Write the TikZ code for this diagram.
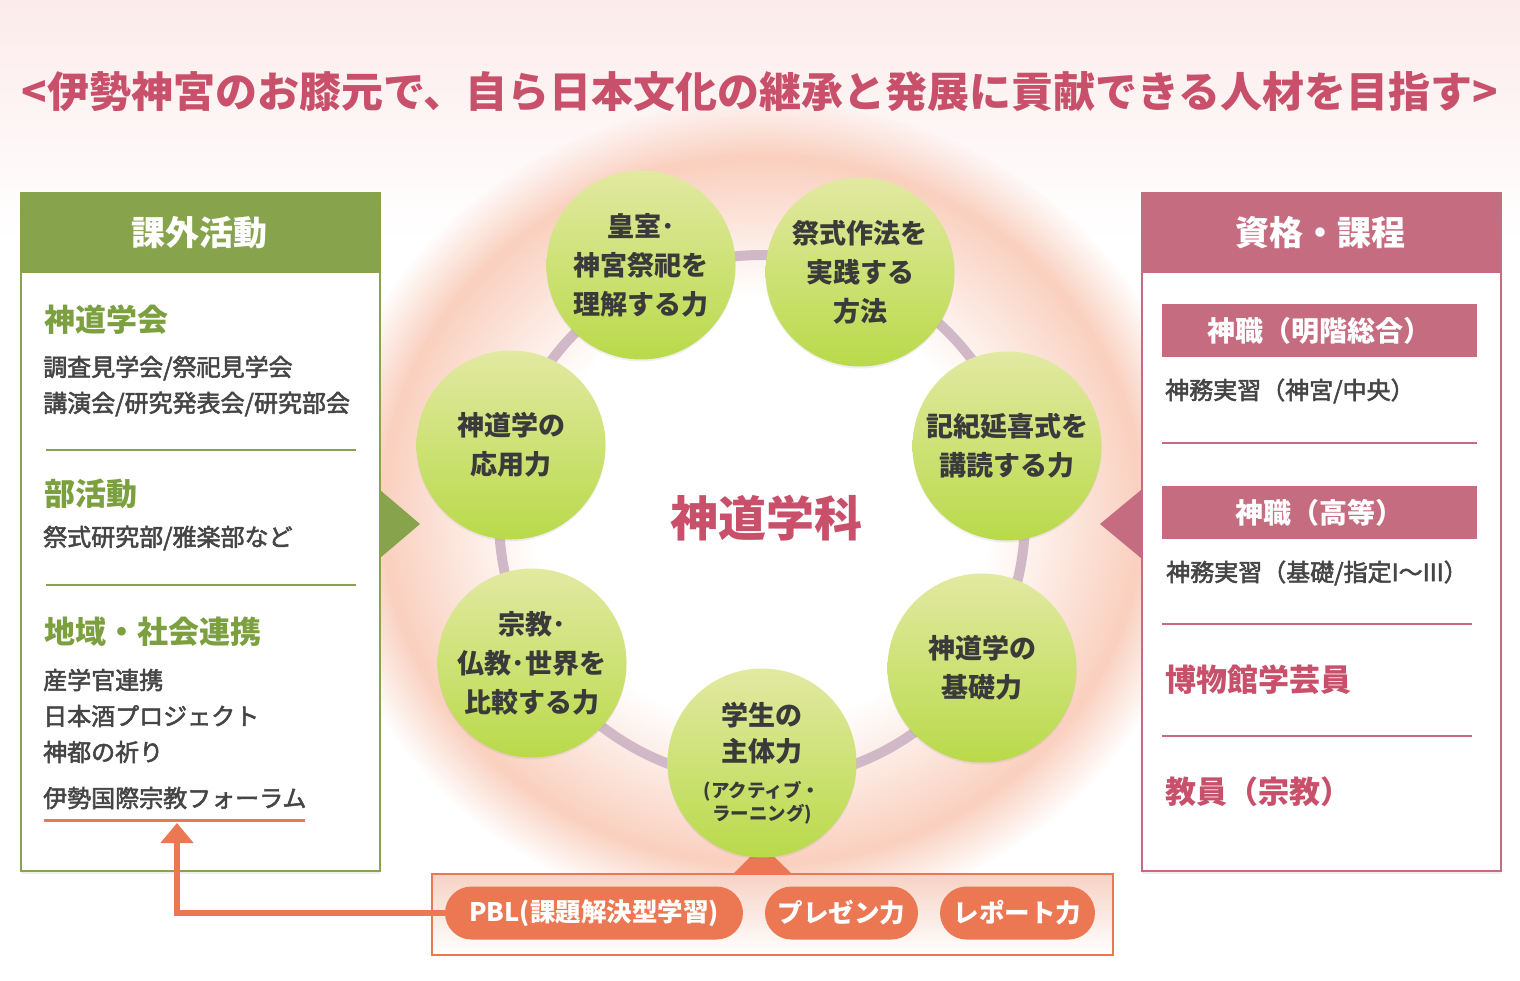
\documentclass[tikz,border=0pt]{standalone}
\usepackage{fontspec}
\setmainfont{Noto Sans CJK JP}
\newfontfamily\jpmed[FakeBold=2.2]{Noto Sans CJK JP}
\usetikzlibrary{shadows,arrows.meta,fadings}
\definecolor{tpink}{HTML}{C9506A}
\definecolor{hgreen}{HTML}{87A34B}
\definecolor{tgreen}{HTML}{7C9F3F}
\definecolor{hpink}{HTML}{C66C80}
\definecolor{ppink}{HTML}{C8506A}
\definecolor{orng}{HTML}{EC7853}
\definecolor{txt}{HTML}{454545}
\definecolor{ctxt}{HTML}{3A3A3A}
\definecolor{ringc}{HTML}{D1B8C7}
\definecolor{cgtop}{HTML}{E2E9A2}
\definecolor{cgbot}{HTML}{B9DA4A}
\definecolor{glowc}{HTML}{FAD0BF}
\definecolor{bandc}{HTML}{FCEBEB}
\definecolor{boxtop}{HTML}{F7D2C4}
\pgfdeclareradialshading{glowmask}{\pgfpointorigin}{color(0bp)=(black); color(13bp)=(black); color(21.5bp)=(white); color(25bp)=(black); color(50bp)=(black)}
\pgfdeclarefading{glowfade}{\pgfuseshading{glowmask}}
\begin{document}
\begin{tikzpicture}[x=1pt,y=-1pt,
  skill/.style={circle, minimum size=189pt, inner sep=0pt, top color=cgtop, bottom color=cgbot,
    align=center, text=ctxt, font=\bfseries\fontsize{27}{39}\selectfont,
    drop shadow={shadow xshift=0pt, shadow yshift=-2pt, opacity=0.12}},
  panel/.style={fill=white, line width=2pt, anchor=north west, minimum width=359pt, minimum height=678pt, inner sep=0pt,
    drop shadow={shadow xshift=0pt, shadow yshift=-3pt, opacity=0.12}},
  phead/.style={anchor=north west, minimum width=359pt, minimum height=81pt, inner sep=0pt, text=white,
    font=\bfseries\fontsize{34}{34}\selectfont},
  gtitle/.style={anchor=west, inner sep=0pt, text=tgreen, font=\bfseries\fontsize{31}{31}\selectfont},
  ptitle/.style={anchor=west, inner sep=0pt, text=ppink, font=\bfseries\fontsize{31}{31}\selectfont},
  body/.style={anchor=west, inner sep=0pt, text=txt, font=\jpmed\fontsize{24}{24}\selectfont},
  subbox/.style={fill=hpink, minimum width=315pt, minimum height=53pt, inner sep=0pt, text=white,
    font=\bfseries\fontsize{28}{28}\selectfont},
  pill/.style={fill=orng, rounded corners=26.5pt, minimum height=53pt, inner sep=0pt, text=white,
    font=\bfseries\fontsize{25.5}{25.5}\selectfont},
  grule/.style={draw=hgreen, line width=2pt},
  prule/.style={draw=hpink, line width=2pt},
  arr/.style={draw=orng, line width=6pt, -{Triangle[width=32pt,length=20pt]}}
]
\useasboundingbox (0,0) rectangle (1520,980);
\fill[white] (0,0) rectangle (1520,980);
\shade[top color=bandc, bottom color=white] (0,0) rectangle (1520,240);
% glow
\fill[glowc, path fading=glowfade] (762,510) ellipse [x radius=440pt, y radius=410pt];

% title
\node[text=tpink, font=\bfseries\fontsize{42}{42}\selectfont, inner sep=0pt] (title) at (760,92)
  {<伊勢神宮のお膝元で、自ら日本文化の継承と発展に貢献できる人材を目指す>};

% ring
\draw[ringc, line width=10pt] (762,518) circle (263pt);
\node[text=ppink, font=\bfseries\fontsize{48}{48}\selectfont, inner sep=0pt] (dept) at (766,518) {神道学科};

% bottom box and pointer
\fill[orng] (733,874) -- (762,845) -- (792,874) -- cycle;
\node[draw=orng, line width=2pt, top color=boxtop, bottom color=white, anchor=north west,
  minimum width=681pt, minimum height=81pt, inner sep=0pt] (bbox) at (431,873) {};

% circles
\node[skill] (c1) at (641,265) {皇室･\\神宮祭祀を\\理解する力};
\node[skill] (c2) at (860,272) {祭式作法を\\実践する\\方法};
\node[skill] (c3) at (1007,446) {記紀延喜式を\\講読する力};
\node[skill] (c4) at (982,668) {神道学の\\基礎力};
\node[skill] (c5) at (762,763) {学生の\\[-3pt]主体力\\[-3pt]{\fontsize{18.5}{18.5}\selectfont (アクティブ・}\\[-16pt]{\fontsize{18.5}{18.5}\selectfont ラーニング)}};
\node[skill] (c6) at (532,663) {宗教･\\仏教･世界を\\比較する力};
\node[skill] (c7) at (511,445) {神道学の\\応用力};

% left panel
\fill[hgreen] (380,490) -- (420,524) -- (380,558) -- cycle;
\node[panel, draw=hgreen] (lp) at (20,192) {};
\node[phead, fill=hgreen] (lh) at (20,192) {課外活動};
\node[gtitle] (l1) at (44,320) {神道学会};
\node[body] (l1a) at (43,368) {調査見学会/祭祀見学会};
\node[body] (l1b) at (43,404) {講演会/研究発表会/研究部会};
\draw[grule] (46,450) -- (356,450);
\node[gtitle] (l2) at (44,494) {部活動};
\node[body] (l2a) at (43,538) {祭式研究部/雅楽部など};
\draw[grule] (46,585) -- (356,585);
\node[gtitle] (l3) at (44,632) {地域・社会連携};
\node[body] (l3a) at (43,680) {産学官連携};
\node[body] (l3b) at (43,716) {日本酒プロジェクト};
\node[body] (l3c) at (43,752) {神都の祈り};
\node[body] (l3d) at (43,798) {伊勢国際宗教フォーラム};
\draw[orng, line width=3pt] (44,820) -- (305,820);
\coordinate (fwd) at (177,823);

% right panel
\fill[hpink] (1141,490) -- (1100,524) -- (1141,558) -- cycle;
\node[panel, draw=hpink] (rp) at (1141,192) {};
\node[phead, fill=hpink] (rh) at (1141,192) {資格・課程};
\node[subbox] (r1) at (1319.5,330.5) {神職（明階総合）};
\node[body] (r1a) at (1165,391) {神務実習（神宮/中央）};
\draw[prule] (1162,443) -- (1477,443);
\node[subbox] (r2) at (1319.5,512.5) {神職（高等）};
\node[body] (r2a) at (1166,573) {神務実習（基礎/指定I〜III）};
\draw[prule] (1162,624) -- (1472,624);
\node[ptitle] (r3) at (1165,680) {博物館学芸員};
\draw[prule] (1162,736) -- (1472,736);
\node[ptitle] (r4) at (1165,792) {教員（宗教）};

% pills
\node[pill, minimum width=298pt] (pbl) at (594,913) {PBL(課題解決型学習)};
\node[pill, minimum width=153pt] (pres) at (841.5,913) {プレゼン力};
\node[pill, minimum width=155pt] (rep) at (1017.5,913) {レポート力};

% arrow
\draw[arr] (pbl.west) -| (fwd);
\end{tikzpicture}
\end{document}
